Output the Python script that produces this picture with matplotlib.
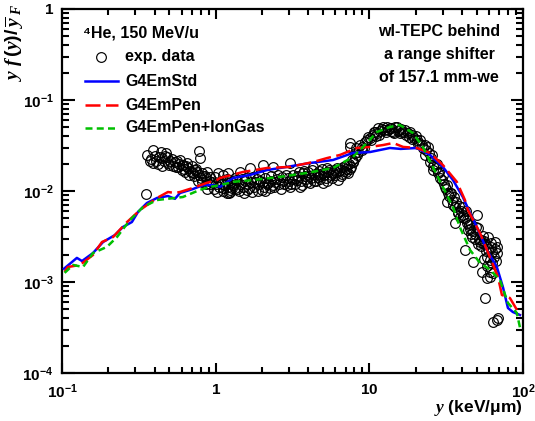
import numpy as np
import matplotlib
matplotlib.use('Agg')
import matplotlib.pyplot as plt
from matplotlib.ticker import LogLocator, FuncFormatter, NullFormatter

plt.rcParams['font.family'] = ['Liberation Sans', 'DejaVu Sans']
plt.rcParams['font.weight'] = 'bold'
plt.rcParams['mathtext.fontset'] = 'custom'
plt.rcParams['mathtext.rm'] = 'Liberation Sans:bold'
plt.rcParams['mathtext.bf'] = 'Liberation Sans:bold'
plt.rcParams['mathtext.it'] = 'Liberation Serif:italic'

exp_x = [0.352, 0.391, 0.441, 0.475, 0.374, 0.409, 0.448, 0.482, 0.504, 0.543, 0.586, 0.612,
         0.569, 0.604, 0.650, 0.701, 0.711, 0.791, 0.783, 0.755, 0.815, 0.877, 0.918, 0.989, 1.035,
         1.115, 1.203, 1.067, 1.115, 1.240, 1.185, 1.336,
         0.40, 0.42, 0.46, 0.50, 0.52, 0.55, 0.58, 0.62, 0.66, 0.68, 0.73, 0.78, 0.83, 0.87,
         0.36, 0.38, 0.39, 0.43, 0.45, 0.47, 0.49, 0.53, 0.56, 0.60, 0.63, 0.64, 0.67, 0.70,
         0.72, 0.75, 0.77, 0.80, 0.82, 0.86, 0.88, 0.92, 0.97,
         0.85, 0.90, 0.95, 1.00, 1.05, 1.10, 1.15, 1.20, 1.25,
         1.240, 1.297, 1.44, 1.67, 1.75, 2.00, 2.03, 2.36, 2.36, 2.70, 2.91, 3.04, 3.28, 3.53,
         3.70, 4.11, 4.30, 4.63, 4.99, 5.30, 5.80, 6.25, 6.73, 7.26, 7.71, 8.06, 7.48,
         1.30, 1.35, 1.38, 1.45, 1.50, 1.55, 1.60, 1.62, 1.70, 1.78, 1.85, 1.90, 1.95, 2.05,
         2.10, 2.20, 2.25, 2.30, 2.45, 2.50, 2.60, 2.75, 2.85, 3.00, 3.10, 3.20, 3.40, 3.50,
         3.60, 3.80, 3.90, 4.00, 4.20, 4.40, 4.50, 4.70, 4.80, 5.00, 5.20, 5.40, 5.60, 5.90,
         6.10, 6.40, 6.60, 6.90, 7.10, 7.40, 7.60,
         1.02, 1.08, 1.12, 1.18, 1.22, 1.28, 1.33, 1.42, 1.48, 1.52, 1.58, 1.65, 1.72, 1.80,
         1.88, 1.92, 2.02, 2.08, 2.15, 2.28, 2.40, 2.55, 2.65, 2.80, 2.95, 3.05, 3.15, 3.30,
         3.45, 3.65, 3.75, 3.95, 4.05, 4.25, 4.35, 4.60, 4.75, 4.90, 5.10, 5.30, 5.50, 5.70,
         5.80, 6.00, 6.20, 6.50, 6.80, 7.00, 7.20, 7.50, 7.80, 8.10,
         7.48, 7.82, 8.30, 8.95, 9.36, 10.1, 10.9, 11.4, 12.3, 13.6, 15.1, 15.8, 17.1, 18.9,
         20.4, 22.0, 24.1, 23.0, 24.8, 25.9, 27.9, 29.7, 31.0, 32.5, 32.0, 34.4, 36.0, 37.7,
         8.5, 9.0, 9.6, 10.5, 11.0, 11.8, 12.8, 13.2, 14.0, 14.5, 15.5, 16.3, 17.8, 18.2,
         19.5, 21.0, 21.5, 23.5, 25.2, 26.5, 27.0, 28.5, 30.5, 31.5, 33.0,
         8.2, 8.7, 9.2, 9.8, 10.3, 10.7, 11.2, 11.6, 12.0, 12.5, 13.0, 13.9, 14.3, 14.8,
         15.3, 16.0, 16.7, 17.4, 18.5, 19.0, 20.0, 20.8, 22.5, 23.2, 24.5, 25.5, 26.0, 27.5,
         29.0, 30.0, 32.2, 34.0, 35.5, 36.8,
         33.4, 35.0, 37.7, 36.0, 40.6, 43.2, 43.8, 41.9, 46.5, 50.1, 50.9, 52.5, 47.2, 54.8,
         59.1, 65.6, 62.8, 67.6, 58.2, 60.9, 54.1, 58.2, 60.9, 63.7, 56.5, 63.7, 67.6, 68.7,
         38.5, 39.5, 41.0, 42.0, 44.5, 45.5, 47.0, 48.5, 49.0, 51.5, 53.5, 56.0, 57.5, 61.5,
         64.5, 66.5,
         39.0, 40.0, 42.5, 43.5, 46.0, 46.0, 49.5, 51.0, 53.0, 55.0, 57.0, 59.5, 62.0, 63.0,
         66.0, 68.0, 55.5, 58.5, 61.0]
exp_y = [0.00927, 0.0282, 0.0268, 0.0262, 0.0214, 0.0214, 0.0230, 0.0236, 0.0214, 0.0208, 0.0219, 0.0193,
         0.0184, 0.0170, 0.0203, 0.0188, 0.0158, 0.0230, 0.0275, 0.0162, 0.0158, 0.0162, 0.0143, 0.0143, 0.0158,
         0.0150, 0.0158, 0.0126, 0.0108, 0.00975, 0.00951, 0.0108,
         0.0245, 0.0200, 0.0215, 0.0195, 0.0225, 0.0185, 0.0200, 0.0175, 0.0180, 0.0165, 0.0170, 0.0150, 0.0148, 0.0140,
         0.0250, 0.0225, 0.0205, 0.0235, 0.0190, 0.0245, 0.0205, 0.0190, 0.0215, 0.0195, 0.0160, 0.0190, 0.0150, 0.0160,
         0.0145, 0.0175, 0.0130, 0.0140, 0.0125, 0.0120, 0.0105, 0.0118, 0.0105,
         0.0145, 0.0130, 0.0125, 0.0118, 0.0110, 0.0120, 0.0115, 0.0112, 0.0125,
         0.0103, 0.0123, 0.0162, 0.0179, 0.0143, 0.0103, 0.0193, 0.0184, 0.0116, 0.0143, 0.0116, 0.0203, 0.0139, 0.0111,
         0.0158, 0.0123, 0.0184, 0.0143, 0.0123, 0.0179, 0.0158, 0.0132, 0.0184, 0.0158, 0.0219, 0.0262, 0.0305,
         0.0116, 0.0132, 0.0105, 0.0120, 0.0110, 0.0128, 0.0102, 0.0118, 0.0125, 0.0110, 0.0135, 0.0118, 0.0128, 0.0112,
         0.0138, 0.0122, 0.0108, 0.0145, 0.0125, 0.0135, 0.0118, 0.0130, 0.0150, 0.0128, 0.0120, 0.0150, 0.0133, 0.0160,
         0.0128, 0.0145, 0.0135, 0.0162, 0.0140, 0.0152, 0.0130, 0.0165, 0.0148, 0.0158, 0.0140, 0.0162, 0.0150, 0.0170,
         0.0160, 0.0172, 0.0155, 0.0190, 0.0175, 0.0200, 0.0185,
         0.0098, 0.0130, 0.0100, 0.0135, 0.0095, 0.0108, 0.0140, 0.0100, 0.0135, 0.0095, 0.0140, 0.0108, 0.0098, 0.0125,
         0.0100, 0.0150, 0.0125, 0.0100, 0.0118, 0.0130, 0.0110, 0.0150, 0.0105, 0.0120, 0.0140, 0.0110, 0.0135, 0.0120,
         0.0145, 0.0115, 0.0165, 0.0125, 0.0145, 0.0170, 0.0128, 0.0155, 0.0135, 0.0175, 0.0150, 0.0130, 0.0170, 0.0140,
         0.0160, 0.0150, 0.0180, 0.0145, 0.0165, 0.0160, 0.0195, 0.0175, 0.0210, 0.0230,
         0.0337, 0.0208, 0.0249, 0.0305, 0.0345, 0.0382, 0.0445, 0.0492, 0.0505, 0.0492, 0.0505, 0.0434, 0.0468, 0.0412,
         0.0363, 0.0320, 0.0305, 0.0249, 0.0208, 0.0170, 0.0158, 0.0132, 0.0111, 0.00951, 0.00757, 0.00796, 0.00667, 0.00587,
         0.027, 0.028, 0.036, 0.041, 0.040, 0.046, 0.044, 0.047, 0.046, 0.043, 0.047, 0.044, 0.043, 0.039,
         0.038, 0.034, 0.036, 0.028, 0.023, 0.020, 0.018, 0.016, 0.012, 0.0105, 0.0088,
         0.030, 0.032, 0.030, 0.039, 0.036, 0.044, 0.043, 0.041, 0.048, 0.047, 0.050, 0.049, 0.045, 0.050,
         0.046, 0.048, 0.045, 0.041, 0.044, 0.037, 0.040, 0.033, 0.030, 0.032, 0.026, 0.025, 0.019, 0.020,
         0.014, 0.015, 0.0115, 0.0095, 0.0085, 0.0075,
         0.00951, 0.00702, 0.00573, 0.00445, 0.00518, 0.00445, 0.00373, 0.00225, 0.00312, 0.00545, 0.00392, 0.00275, 0.00166, 0.00268,
         0.00312, 0.00275, 0.00214, 0.00208, 0.00188, 0.00175, 0.00129, 0.00111, 0.00114, 0.00126, 0.000667, 0.000363, 0.000382, 0.000402,
         0.0068, 0.0060, 0.0055, 0.0050, 0.0042, 0.0038, 0.0036, 0.0034, 0.0030, 0.0030, 0.0025, 0.0028, 0.0022, 0.0024,
         0.0019, 0.0017,
         0.0052, 0.0066, 0.0060, 0.0048, 0.0043, 0.0034, 0.0040, 0.0026, 0.0029, 0.0032, 0.0026, 0.0023, 0.0027, 0.0016,
         0.0023, 0.0024, 0.0018, 0.0015, 0.0013]

# Geant4 simulations
std_x = [0.103, 0.125, 0.135, 0.159, 0.185, 0.221, 0.249, 0.285, 0.312, 0.357, 0.415, 0.489, 0.543,
         0.586, 0.711, 0.826, 0.96, 1.07, 1.30, 1.67, 2.16, 2.91, 4.11, 5.80, 7.82, 10.1, 13.6,
         16.0, 20.4, 24.8, 30.1, 35.0, 40.6, 45.2, 50.1, 58.2, 67.6, 74.0, 79.8, 85.9, 95.5]
std_y = [1.40e-3, 1.84e-3, 1.70e-3, 2.08e-3, 2.75e-3, 3.28e-3, 4.02e-3, 4.56e-3, 5.87e-3, 7.38e-3,
         8.38e-3, 8.81e-3, 8.20e-3, 9.51e-3, 1.05e-2, 1.16e-2, 1.16e-2, 1.11e-2, 1.39e-2, 1.50e-2,
         1.70e-2, 1.84e-2, 2.03e-2, 2.19e-2, 2.62e-2, 2.68e-2, 2.97e-2, 2.90e-2, 2.97e-2, 2.49e-2,
         1.84e-2, 1.32e-2, 8.59e-3, 5.73e-3, 4.02e-3, 2.25e-3, 1.46e-3, 8.81e-4, 5.18e-4, 4.68e-4, 4.34e-4]

pen_x = [0.104, 0.109, 0.131, 0.159, 0.182, 0.215, 0.265, 0.322, 0.415, 0.489, 0.543, 0.586, 0.711,
         0.877, 1.02, 1.067, 1.51, 2.16, 3.04, 4.30, 5.30, 6.44, 8.30, 10.1, 12.3, 14.3, 16.6, 20.4,
         24.8, 30.1, 37.1, 41.9, 43.8, 52.5, 60.9, 68.7, 72.9, 82.2, 95.5]
pen_y = [1.29e-3, 1.46e-3, 1.54e-3, 1.98e-3, 2.75e-3, 3.12e-3, 4.56e-3, 6.18e-3, 8.38e-3, 9.75e-3,
         9.51e-3, 9.75e-3, 1.08e-2, 1.23e-2, 1.32e-2, 1.39e-2, 1.62e-2, 1.79e-2, 1.84e-2, 2.08e-2,
         2.30e-2, 2.49e-2, 2.97e-2, 3.05e-2, 3.20e-2, 3.37e-2, 3.05e-2, 2.97e-2, 2.62e-2, 1.93e-2,
         1.26e-2, 7.96e-3, 6.18e-3, 3.45e-3, 1.88e-3, 1.14e-3, 7.2e-4, 6.67e-4, 4.34e-4]

ion_x = [0.104, 0.118, 0.137, 0.159, 0.196, 0.228, 0.277, 0.337, 0.415, 0.543, 0.612, 0.791, 0.918,
         1.067, 1.297, 1.75, 2.62, 3.93, 5.80, 7.82, 9.64, 11.2, 13.6, 15.8, 19.2, 22.3, 25.9, 30.1,
         35.0, 38.8, 45.2, 52.5, 60.9, 70.8, 79.8, 91.2, 95.5]
ion_y = [1.26e-3, 1.54e-3, 1.46e-3, 2.08e-3, 2.43e-3, 3.12e-3, 4.80e-3, 6.67e-3, 7.96e-3, 8.38e-3,
         8.59e-3, 1.03e-2, 1.11e-2, 1.16e-2, 1.26e-2, 1.32e-2, 1.43e-2, 1.58e-2, 1.79e-2, 2.36e-2,
         3.37e-2, 4.45e-2, 5.05e-2, 5.31e-2, 4.34e-2, 3.05e-2, 1.84e-2, 1.11e-2, 6.67e-3, 4.02e-3,
         2.25e-3, 1.62e-3, 1.37e-3, 1.05e-3, 5.88e-4, 4.56e-4, 3.18e-4]

W, H = 535, 421
fig = plt.figure(figsize=(W / 100, H / 100), dpi=100)
ax = fig.add_axes([62 / W, 1 - 373 / H, (523 - 62) / W, (373 - 9) / H])

ax.plot(exp_x, exp_y, 'o', ms=7, mfc='none', mec='black', mew=0.85, zorder=2)
ax.plot(std_x, std_y, '-', color='#0000ff', lw=1.8, zorder=3)
ax.plot(pen_x, pen_y, color='#ff0000', lw=1.8, dashes=(6, 2.2), zorder=4)
ax.plot(ion_x, ion_y, color='#00c000', lw=1.8, dashes=(2.8, 1.7), zorder=5)

ax.set_xscale('log')
ax.set_yscale('log')
ax.set_xlim(0.1, 100)
ax.set_ylim(1e-4, 1)


def fmt(v, pos):
    e = int(round(np.log10(v)))
    if e == 0:
        return r'$\mathbf{1}$'
    if e == 1:
        return r'$\mathbf{10}$'
    return r'$\mathbf{10^{%d}}$' % e


for axis in (ax.xaxis, ax.yaxis):
    axis.set_major_locator(LogLocator(base=10, numticks=10))
    axis.set_minor_locator(LogLocator(base=10, subs=np.arange(2, 10), numticks=20))
    axis.set_major_formatter(FuncFormatter(fmt))
    axis.set_minor_formatter(NullFormatter())

ax.tick_params(which='both', direction='in', top=True, right=True, width=1.5, labelsize=11)
ax.tick_params(axis='y', which='major', length=9, pad=6)
ax.tick_params(axis='y', which='minor', length=5)
ax.tick_params(axis='x', which='major', length=7, pad=7)
ax.tick_params(axis='x', which='minor', length=4)
for s in ax.spines.values():
    s.set_linewidth(1.6)


def ac(px, py):
    return (px - 62) / 461, (373 - py) / 364


# legend drawn by hand, ROOT style
fs = 11.5
x, y = ac(83, 33)
ax.text(x, y, '⁴He, 150 MeV/u', transform=ax.transAxes, fontsize=fs, fontweight='bold',
        ha='left', va='center')
rows = [57, 81, 105, 128]
labels = ['exp. data', 'G4EmStd', 'G4EmPen', 'G4EmPen+IonGas']
x0, _ = ac(85, 0)
x1, _ = ac(118, 0)
xm, _ = ac(101, 0)
xt, _ = ac(125, 0)
for i, (r, lab) in enumerate(zip(rows, labels)):
    _, yy = ac(0, r)
    if i == 0:
        ax.plot([xm], [yy], 'o', ms=7, mfc='none', mec='black', mew=0.85, transform=ax.transAxes, clip_on=False)
    elif i == 1:
        ax.plot([x0, x1], [yy, yy], '-', color='#0000ff', lw=1.8, transform=ax.transAxes)
    elif i == 2:
        ax.plot([x0, x1], [yy, yy], color='#ff0000', lw=1.8, dashes=(6, 2.2), transform=ax.transAxes)
    else:
        ax.plot([x0, x1], [yy, yy], color='#00c000', lw=1.8, dashes=(2.8, 1.7), transform=ax.transAxes)
    ax.text(xt, yy, lab, transform=ax.transAxes, fontsize=fs, fontweight='bold', ha='left', va='center')

for r, line in zip([32, 54, 77], ['wl-TEPC behind', 'a range shifter', 'of 157.1 mm-we']):
    x, y = ac(439, r)
    ax.text(x, y, line, transform=ax.transAxes, fontsize=fs, fontweight='bold', ha='center', va='center')

fig.text(15 / W, 1 - 4 / H,
         r'$\mathit{y}\ \mathit{f}\,\mathit{(y)/}\,\overline{\mathit{y}}_{\ \mathit{F}}$',
         rotation=90, ha='center', va='top', fontsize=14)
fig.text(523 / W, 1 - 408 / H, r'$\mathit{y}\ \mathbf{(keV/μm)}$',
         ha='right', va='center', fontsize=12.5)

fig.savefig('out.png', dpi=100)
